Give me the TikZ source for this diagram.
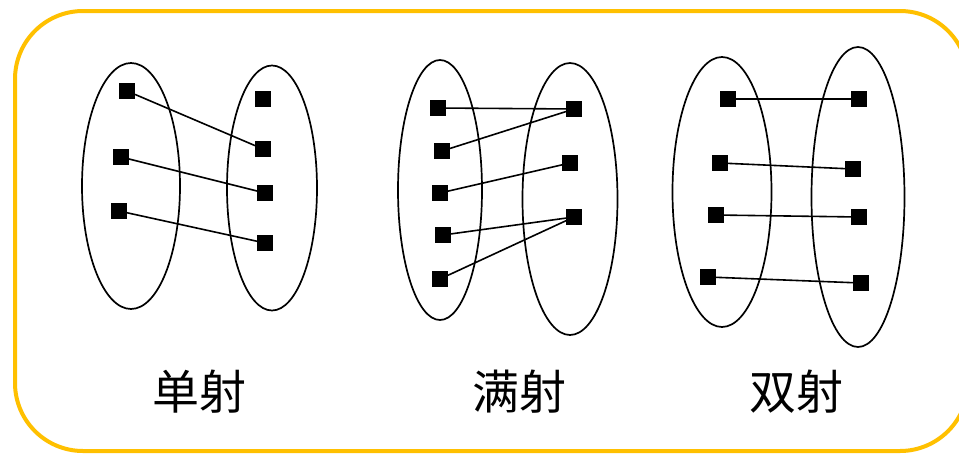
\documentclass[tikz,border=0pt]{standalone}
\usepackage{fontspec}
\newfontfamily\cjk{Noto Sans CJK SC}
\usetikzlibrary{shapes.geometric}
\definecolor{frameorange}{HTML}{FFC000}
\tikzset{
  pt/.style={fill=black, draw=none, minimum size=16pt, inner sep=0pt, outer sep=0pt},
  setell/.style={ellipse, draw=black, line width=1.7pt, inner sep=0pt},
  link/.style={draw=black, line width=1.6pt},
  lab/.style={font=\cjk\fontsize{47}{54}\selectfont, inner sep=0pt}
}
\begin{document}
\begin{tikzpicture}[x=1pt, y=-1pt]
\useasboundingbox (0,0) rectangle (959,453);
\clip (0,0) rectangle (959,453);
\fill[white] (0,0) rectangle (959,453);
\draw[frameorange, line width=4pt, rounded corners=68pt] (15,11) rectangle (968,451);

% ---------- injection ----------
\node[setell, minimum width=98pt, minimum height=246pt] (e1a) at (131,186) {};
\node[setell, minimum width=90pt, minimum height=245pt] (e1b) at (272,188) {};
\node[pt] (a1) at (127,91) {};
\node[pt] (a2) at (121,157) {};
\node[pt] (a3) at (119,211) {};
\node[pt] (b1) at (263,99) {};
\node[pt] (b2) at (263,149) {};
\node[pt] (b3) at (265,193) {};
\node[pt] (b4) at (265,243) {};
\draw[link] (a1) -- (b2);
\draw[link] (a2) -- (b3);
\draw[link] (a3) -- (b4);
\node[lab] (t1) at (199,392) {单射};

% ---------- surjection ----------
\node[setell, minimum width=84pt, minimum height=260pt] (e2a) at (440,190) {};
\node[setell, minimum width=95pt, minimum height=272pt] (e2b) at (570,199) {};
\node[pt] (c1) at (438,108) {};
\node[pt] (c2) at (442,151) {};
\node[pt] (c3) at (440,193) {};
\node[pt] (c4) at (443,235) {};
\node[pt] (c5) at (440,279) {};
\node[pt] (d1) at (574,109) {};
\node[pt] (d2) at (570,163) {};
\node[pt] (d3) at (574,217) {};
\draw[link] (c1) -- (d1);
\draw[link] (c2) -- (d1);
\draw[link] (c3) -- (d2);
\draw[link] (c4) -- (d3);
\draw[link] (c5) -- (d3);
\node[lab] (t2) at (519,392) {满射};

% ---------- bijection ----------
\node[setell, minimum width=99pt, minimum height=270pt] (e3a) at (722,192) {};
\node[setell, minimum width=93pt, minimum height=300pt] (e3b) at (858,197) {};
\node[pt] (f1) at (728,99) {};
\node[pt] (f2) at (720,163) {};
\node[pt] (f3) at (716,215) {};
\node[pt] (f4) at (708,277) {};
\node[pt] (g1) at (859,99) {};
\node[pt] (g2) at (853,169) {};
\node[pt] (g3) at (859,217) {};
\node[pt] (g4) at (861,283) {};
\draw[link] (f1) -- (g1);
\draw[link] (f2) -- (g2);
\draw[link] (f3) -- (g3);
\draw[link] (f4) -- (g4);
\node[lab] (t3) at (796,392) {双射};
\end{tikzpicture}
\end{document}
